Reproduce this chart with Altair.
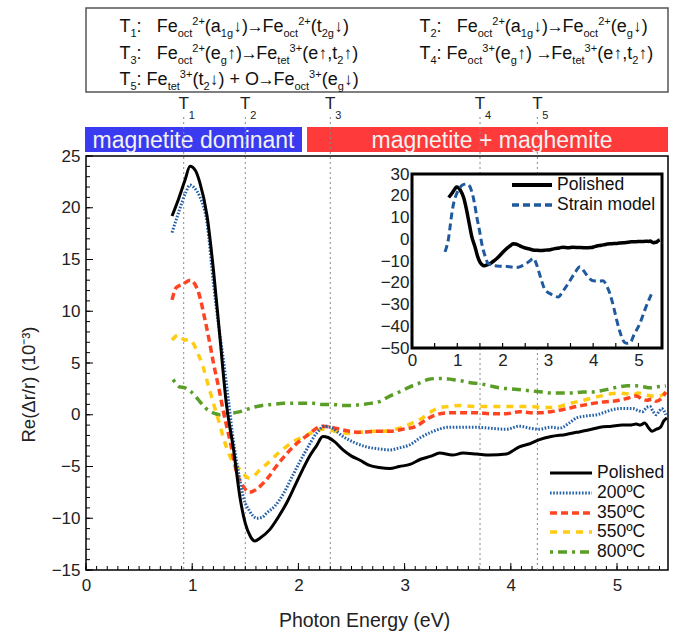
import re
import altair as alt
import pandas as pd
import numpy as np

FONT = "Liberation Sans"

# ---------------- data ----------------
POL_E = [0.81, 0.87, 0.93, 0.98, 1.03, 1.07, 1.14, 1.20, 1.26, 1.32, 1.39, 1.45, 1.50, 1.55, 1.59,
         1.64, 1.73, 1.81, 1.89, 1.97, 2.04, 2.10, 2.17, 2.23, 2.28, 2.34, 2.42, 2.50, 2.58, 2.67,
         2.76, 2.86, 2.95, 3.05, 3.15, 3.25, 3.33, 3.45, 3.55, 3.68, 3.80, 3.96, 4.03, 4.08, 4.18,
         4.27, 4.38, 4.52, 4.62, 4.72, 4.84, 4.95, 5.05, 5.12, 5.18, 5.22, 5.26, 5.30, 5.33, 5.37,
         5.41, 5.44, 5.47]
POL_V = [19.2, 20.8, 22.6, 24.0, 23.6, 22.5, 19.2, 14.0, 7.6, 1.2, -3.4, -8.0, -10.5, -11.8, -12.2,
         -11.9, -11.1, -9.9, -8.5, -6.8, -5.3, -4.1, -3.0, -2.1, -2.2, -2.6, -3.4, -4.0, -4.4, -4.9,
         -5.1, -5.2, -5.0, -4.8, -4.3, -4.0, -3.7, -3.9, -3.7, -3.8, -3.9, -3.8, -3.4, -3.1, -2.8,
         -2.4, -2.1, -1.9, -1.7, -1.5, -1.2, -1.1, -1.0, -1.0, -0.9, -1.0, -0.8, -1.3, -1.6, -1.4,
         -1.2, -0.6, -0.3]

T200_E = [0.81, 0.88, 0.94, 0.98, 1.03, 1.07, 1.14, 1.20, 1.25, 1.29, 1.34, 1.39, 1.44, 1.48, 1.54,
          1.61, 1.66, 1.70, 1.78, 1.86, 1.94, 2.01, 2.08, 2.17, 2.25, 2.32, 2.42, 2.53, 2.64, 2.76,
          2.86, 2.95, 3.05, 3.15, 3.27, 3.42, 3.55, 3.68, 3.80, 3.96, 4.08, 4.18, 4.27, 4.37, 4.46,
          4.55, 4.62, 4.72, 4.81, 4.90, 4.96, 5.05, 5.15, 5.20, 5.24, 5.28, 5.31, 5.34, 5.37, 5.40,
          5.42, 5.46]
T200_V = [17.6, 19.8, 21.5, 22.2, 21.8, 21.1, 18.5, 12.7, 8.5, 5.6, 1.5, -2.7, -5.8, -7.9, -9.3,
          -10.0, -9.9, -9.5, -8.8, -7.6, -6.0, -4.6, -3.3, -1.8, -1.1, -1.3, -2.1, -2.7, -3.1, -3.3,
          -3.4, -3.2, -2.9, -2.2, -1.6, -1.2, -1.2, -1.2, -1.3, -1.4, -1.1, -1.3, -1.4, -1.2, -1.3,
          -0.8, -0.3, -0.1, 0.0, 0.3, 0.5, 0.6, 0.6, 0.4, 0.3, 0.7, 0.8, 0.3, 0.0, 0.4,
          0.6, 0.0]

T350_E = [0.81, 0.85, 0.91, 0.98, 1.02, 1.06, 1.12, 1.16, 1.20, 1.25, 1.29, 1.36, 1.42, 1.48, 1.54,
          1.59, 1.64, 1.72, 1.79, 1.87, 1.95, 2.03, 2.11, 2.17, 2.23, 2.30, 2.39, 2.48, 2.58, 2.73,
          2.86, 2.98, 3.11, 3.20, 3.27, 3.42, 3.55, 3.68, 3.80, 3.96, 4.08, 4.18, 4.27, 4.38, 4.49,
          4.62, 4.72, 4.84, 4.95, 5.02, 5.10, 5.18, 5.24, 5.28, 5.33, 5.37, 5.42, 5.46]
T350_V = [11.1, 12.3, 12.6, 13.0, 12.7, 11.8, 9.2, 7.2, 5.0, 2.6, 0.5, -2.7, -5.6, -6.9, -7.5,
          -7.3, -6.9, -6.0, -5.0, -4.0, -3.1, -2.4, -1.8, -1.3, -1.1, -1.2, -1.4, -1.6, -1.7, -1.6,
          -1.6, -1.4, -1.1, -0.5, -0.1, 0.2, 0.2, 0.2, 0.1, 0.1, 0.3, 0.2, 0.2, 0.3, 0.5,
          0.8, 1.0, 1.2, 1.3, 1.4, 1.6, 1.8, 1.5, 1.4, 1.5, 1.3, 1.6, 2.2]

T550_E = [0.81, 0.87, 0.93, 0.97, 1.01, 1.05, 1.10, 1.15, 1.20, 1.25, 1.29, 1.36, 1.45, 1.53, 1.58,
          1.64, 1.72, 1.79, 1.87, 1.95, 2.03, 2.11, 2.17, 2.23, 2.30, 2.39, 2.48, 2.58, 2.70, 2.80,
          2.88, 2.95, 3.05, 3.17, 3.25, 3.33, 3.42, 3.52, 3.65, 3.77, 3.90, 4.05, 4.20, 4.30, 4.39,
          4.46, 4.52, 4.60, 4.68, 4.76, 4.84, 4.93, 5.02, 5.10, 5.15, 5.20, 5.27, 5.33, 5.40, 5.46]
T550_V = [7.2, 7.7, 7.2, 7.3, 6.9, 6.0, 4.7, 2.9, 1.1, -0.6, -2.1, -4.1, -5.3, -6.1, -5.9,
          -5.3, -4.6, -3.9, -3.2, -2.6, -2.2, -1.8, -1.5, -1.4, -1.5, -1.7, -1.8, -1.7, -1.6, -1.6,
          -1.5, -1.3, -0.9, -0.3, 0.3, 0.7, 0.8, 0.9, 0.8, 0.8, 0.8, 0.8, 0.8, 0.7, 0.7,
          0.8, 1.0, 1.2, 1.4, 1.6, 1.8, 2.0, 2.1, 2.0, 1.9, 2.1, 1.9, 1.8, 1.8, 2.2]

T800_E = [0.82, 0.88, 0.93, 0.98, 1.03, 1.07, 1.12, 1.17, 1.22, 1.26, 1.31, 1.35, 1.40, 1.45, 1.51,
          1.57, 1.66, 1.76, 1.86, 1.95, 2.05, 2.14, 2.23, 2.32, 2.42, 2.51, 2.60, 2.68, 2.77, 2.86,
          2.95, 3.05, 3.15, 3.22, 3.30, 3.38, 3.45, 3.52, 3.62, 3.71, 3.80, 3.89, 4.00, 4.10, 4.20,
          4.30, 4.39, 4.48, 4.58, 4.68, 4.76, 4.84, 4.93, 5.02, 5.10, 5.18, 5.25, 5.31, 5.38, 5.46]
T800_V = [3.4, 2.7, 2.6, 2.3, 1.8, 1.3, 0.7, 0.3, 0.1, 0.0, 0.1, 0.2, 0.2, 0.3, 0.5,
          0.7, 0.9, 1.0, 1.1, 1.1, 1.1, 1.1, 1.0, 1.0, 0.9, 0.9, 1.0, 1.1, 1.3, 1.8,
          2.2, 2.7, 3.1, 3.4, 3.5, 3.5, 3.4, 3.3, 3.1, 3.0, 2.8, 2.6, 2.5, 2.4, 2.3,
          2.2, 2.1, 2.1, 2.1, 2.2, 2.2, 2.3, 2.5, 2.7, 2.8, 2.8, 2.7, 2.6, 2.7, 2.8]

STRAIN_E = [0.73, 0.77, 0.80, 0.84, 0.88, 0.93, 0.99, 1.05, 1.12, 1.21, 1.27, 1.32, 1.38, 1.43, 1.49,
            1.54, 1.61, 1.68, 1.78, 1.94, 2.10, 2.20, 2.31, 2.42, 2.53, 2.60, 2.68, 2.74, 2.79, 2.86,
            2.94, 3.05, 3.15, 3.23, 3.33, 3.45, 3.58, 3.71, 3.79, 3.86, 3.93, 4.00, 4.10, 4.22, 4.30,
            4.37, 4.45, 4.52, 4.59, 4.66, 4.73, 4.81, 4.90, 5.03, 5.15, 5.29]
STRAIN_V = [-5.8, -3.0, -0.4, 5.5, 11.9, 17.5, 21.1, 23.5, 25.0, 25.4, 24.5, 21.9, 16.5, 10.3, 4.0,
            -1.9, -7.5, -11.1, -12.0, -12.4, -12.5, -12.8, -13.0, -12.3, -11.1, -10.0, -8.8, -11.0, -14.2, -19.0,
            -23.4, -25.0, -26.2, -26.5, -24.0, -20.3, -16.0, -12.7, -14.5, -16.5, -18.2, -19.1, -19.2, -19.1, -21.5,
            -25.0, -31.0, -37.2, -42.5, -46.5, -47.8, -47.7, -44.0, -38.8, -32.0, -25.0]

T_E = [0.92, 1.50, 2.30, 3.71, 4.25]
T_SUB = ["1", "2", "3", "4", "5"]

X_LABELS = [0, 1, 2, 3, 4, 5]
Y_LABELS = [-15, -10, -5, 0, 5, 10, 15, 20, 25]
INSET_X_LABELS = [0, 1, 2, 3, 4, 5]
INSET_Y_LABELS = [-50, -40, -30, -20, -10, 0, 10, 20, 30]

SERIES_NAMES = ["Polished", "200ºC", "350ºC", "550ºC", "800ºC"]
INSET_NAMES = ["Polished", "Strain model"]
REGION_LABELS = ["magnetite dominant", "magnetite + maghemite"]

FORMULAS = [
    "T_{1}:   Fe_{oct}^{2+}(a_{1g}↓)→Fe_{oct}^{2+}(t_{2g}↓)",
    "T_{2}:   Fe_{oct}^{2+}(a_{1g}↓)→Fe_{oct}^{2+}(e_{g}↓)",
    "T_{3}:   Fe_{oct}^{2+}(e_{g}↑)→Fe_{tet}^{3+}(e↑,t_{2}↑)",
    "T_{4}: Fe_{oct}^{3+}(e_{g}↑) →Fe_{tet}^{3+}(e↑,t_{2}↑)",
    "T_{5}: Fe_{tet}^{3+}(t_{2}↓) + O→Fe_{oct}^{3+}(e_{g}↓)",
]

# ---------------- layout ----------------
W, H = 582, 414
PL, PT = 86, 156
TOTAL_W, TOTAL_H = 680, 635
X_MAX = 5.48
Y_MIN, Y_MAX = -15, 25

PX = alt.Scale(domain=[0, TOTAL_W], range=[-PL, TOTAL_W - PL], nice=False, zero=False)
PY = alt.Scale(domain=[0, TOTAL_H], range=[-PT, TOTAL_H - PT], nice=False, zero=False)

XS = alt.Scale(domain=[0, X_MAX], nice=False, zero=False)
YS = alt.Scale(domain=[Y_MIN, Y_MAX], nice=False, zero=False)

xaxis = alt.Axis(values=X_LABELS, format="d", ticks=False, domain=False, grid=False,
                 labelFont=FONT, labelFontSize=17, labelColor="#222", labelPadding=7,
                 labelFlush=False,
                 titleFont=FONT, titleFontSize=19.5, titleFontWeight="normal", titleColor="#222",
                 titlePadding=18, titleX=364 - PL)
yaxis = alt.Axis(values=Y_LABELS, format="d", ticks=False, domain=False, grid=False,
                 labelFont=FONT, labelFontSize=17, labelColor="#222", labelPadding=6,
                 labelFlush=False,
                 titleFont=FONT, titleFontSize=18.5, titleFontWeight="normal", titleColor="#222",
                 titlePadding=13, titleY=384 - PT)

XTITLE = "Photon Energy (eV)"
YTITLE = "Re(Δr/r) (10⁻³)"


def xenc(field="e"):
    return alt.X(f"{field}:Q", scale=XS, axis=xaxis, title=XTITLE)


def yenc(field="v"):
    return alt.Y(f"{field}:Q", scale=YS, axis=yaxis, title=YTITLE)


def px_to_v(py):
    """plot-pixel y (from top of plot area) -> data value of the main y scale"""
    return Y_MAX - py * (Y_MAX - Y_MIN) / H


# ---- back annotation layer (page coordinates) ----
box_df = pd.DataFrame({"x": [86], "x2": [668], "y": [8], "y2": [92]})
box = alt.Chart(box_df).mark_rect(fill="white", stroke="#555", strokeWidth=1.5).encode(
    x=alt.X("x:Q", scale=PX, axis=None), x2="x2:Q",
    y=alt.Y("y:Q", scale=PY, axis=None), y2="y2:Q")

bars_df = pd.DataFrame({
    "x": [85, 307], "x2": [302, 668], "y": [127, 127], "y2": [152, 152],
    "c": ["#3a3af0", "#ff3a3a"], "label": REGION_LABELS, "cx": [193.5, 492], "cy": [141, 141],
})
bars = alt.Chart(bars_df).mark_rect().encode(
    x=alt.X("x:Q", scale=PX, axis=None), x2="x2:Q",
    y=alt.Y("y:Q", scale=PY, axis=None), y2="y2:Q",
    color=alt.Color("c:N", scale=None, legend=None))
bar_text = alt.Chart(bars_df).mark_text(font=FONT, fontSize=23, color="#f2f2f2",
                                        baseline="middle").encode(
    x=alt.X("cx:Q", scale=PX, axis=None), y=alt.Y("cy:Q", scale=PY, axis=None), text="label:N")

back = alt.layer(box, bars, bar_text)

# ---- inset geometry (plot pixels) ----
IL, IR, IT, IB = 326, 576, 18, 192

# ---- main plot ----
# dotted transition lines; interrupted where the inset covers them
seg_rows = []
for e in T_E:
    xp = e * W / X_MAX
    if IL <= xp <= IR:
        seg_rows.append({"e": e, "v1": px_to_v(-39), "v2": px_to_v(IT)})
        seg_rows.append({"e": e, "v1": px_to_v(IB), "v2": px_to_v(H)})
    else:
        seg_rows.append({"e": e, "v1": px_to_v(-39), "v2": px_to_v(H)})
seg_df = pd.DataFrame(seg_rows)
t_rules = alt.Chart(seg_df).mark_rule(color="#8a8a8a", strokeDash=[2, 3], strokeWidth=1).encode(
    x=xenc(), y=yenc("v1"), y2="v2:Q")

tdf = pd.DataFrame({"e": T_E, "sub": T_SUB})
t_text = alt.Chart(tdf).mark_text(text="T", font=FONT, fontSize=17, color="#222",
                                  baseline="middle").encode(x=xenc(), y=alt.value(-52))
t_sub = alt.Chart(tdf).mark_text(font=FONT, fontSize=11, color="#222", baseline="middle",
                                 dx=8).encode(x=xenc(), y=alt.value(-40), text="sub:N")

x_minor = pd.DataFrame({"e": np.round(np.arange(0, 5.45, 0.1), 2)})
x_major = pd.DataFrame({"e": X_LABELS})
y_minor = pd.DataFrame({"v": np.arange(-15, 26, 1)})
y_major = pd.DataFrame({"v": Y_LABELS})
xt1 = alt.Chart(x_minor).mark_rule(color="black", strokeWidth=1).encode(
    x=xenc(), y=alt.value(H), y2=alt.value(H - 4))
xt2 = alt.Chart(x_major).mark_rule(color="black", strokeWidth=1).encode(
    x=xenc(), y=alt.value(H), y2=alt.value(H - 7))
yt1 = alt.Chart(y_minor).mark_rule(color="black", strokeWidth=1).encode(
    y=yenc(), x=alt.value(0), x2=alt.value(4))
yt2 = alt.Chart(y_major).mark_rule(color="black", strokeWidth=1).encode(
    y=yenc(), x=alt.value(0), x2=alt.value(7))

STYLES = {
    "Polished": dict(color="#000000", strokeWidth=3),
    "200ºC": dict(color="#2460a8", strokeWidth=3, strokeDash=[1.6, 1.6]),
    "350ºC": dict(color="#ff4422", strokeWidth=3.5, strokeDash=[7, 4]),
    "550ºC": dict(color="#ffcc11", strokeWidth=3.5, strokeDash=[7, 6]),
    "800ºC": dict(color="#5a9e28", strokeWidth=3.5, strokeDash=[3, 5, 9, 5]),
}
SERIES_DATA = {
    "Polished": (POL_E, POL_V),
    "200ºC": (T200_E, T200_V),
    "350ºC": (T350_E, T350_V),
    "550ºC": (T550_E, T550_V),
    "800ºC": (T800_E, T800_V),
}

lines = []
for name in ["800ºC", "550ºC", "350ºC", "200ºC", "Polished"]:
    e, v = SERIES_DATA[name]
    df = pd.DataFrame({"e": e, "v": v})
    lines.append(alt.Chart(df).mark_line(interpolate="monotone", **STYLES[name]).encode(
        x=xenc(), y=yenc()))

main = alt.layer(t_rules, t_text, t_sub, xt1, xt2, yt1, yt2, *lines)

# ---- inset ----
IXS = alt.Scale(domain=[0, 5.52], range=[IL, IR], nice=False, zero=False)
IYS = alt.Scale(domain=[-50, 30], range=[IB, IT], nice=False, zero=False)
ixaxis = alt.Axis(orient="bottom", offset=-(H - IB), values=INSET_X_LABELS, format="d",
                  ticks=False, domain=False, grid=False, labelFont=FONT, labelFontSize=17,
                  labelColor="#222", labelPadding=4, labelFlush=False, title=None)
iyaxis = alt.Axis(orient="left", offset=-IL, values=INSET_Y_LABELS, format="d",
                  ticks=False, domain=False, grid=False, labelFont=FONT, labelFontSize=17,
                  labelColor="#222", labelPadding=3, labelFlush=False, title=None)


def ixenc():
    return alt.X("e:Q", scale=IXS, axis=ixaxis)


def iyenc():
    return alt.Y("v:Q", scale=IYS, axis=iyaxis)


frame_df = pd.DataFrame({"a": [0]})
inset_bg = alt.Chart(frame_df).mark_rect(fill="white").encode(
    x=alt.value(IL), x2=alt.value(IR), y=alt.value(IT), y2=alt.value(IB))
inset_pol = alt.Chart(pd.DataFrame({"e": POL_E, "v": POL_V})).mark_line(
    interpolate="monotone", color="black", strokeWidth=3.5).encode(x=ixenc(), y=iyenc())
inset_strain = alt.Chart(pd.DataFrame({"e": STRAIN_E, "v": STRAIN_V})).mark_line(
    interpolate="monotone", color="#1f5a9e", strokeWidth=3, strokeDash=[7, 4]).encode(
    x=ixenc(), y=iyenc())
inset_ticks = alt.Chart(pd.DataFrame({"e": np.arange(0.5, 5.5, 0.5)})).mark_rule(
    color="black", strokeWidth=1.2).encode(x=ixenc(), y=alt.value(IB), y2=alt.value(IB - 5))
inset_frame = alt.Chart(frame_df).mark_rect(fillOpacity=0, stroke="black", strokeWidth=3).encode(
    x=alt.value(IL), x2=alt.value(IR), y=alt.value(IT), y2=alt.value(IB))

inset = alt.layer(inset_bg, inset_pol, inset_strain, inset_ticks, inset_frame)

# ---- front annotation layer: formulas and legends ----
W_EM = {"T": .611, "F": .611, "O": .778, "e": .556, "a": .556, "c": .5, "o": .556, "t": .278,
        "g": .556, "1": .556, "2": .556, "3": .556, "4": .556, "5": .556, "+": .584,
        "(": .333, ")": .333, ":": .278, " ": .278, ",": .278, "↓": .5, "↑": .5, "→": .8}
MAIN_FS, SUB_FS, ARROW_FS = 18, 11, 17
SUB_DY, SUP_DY = 5, -7


def layout(spec, x0, base):
    rows = []
    x = x0
    for tok in re.findall(r"_\{[^}]*\}|\^\{[^}]*\}|.", spec):
        if tok.startswith("_{"):
            txt, fs, y = tok[2:-1], SUB_FS, base + SUB_DY
        elif tok.startswith("^{"):
            txt, fs, y = tok[2:-1], SUB_FS, base + SUP_DY
        else:
            txt, fs, y = tok, MAIN_FS, base
        for ch in txt:
            w = W_EM.get(ch, .556) * fs
            if ch != " ":
                rows.append({"x": x + w / 2, "y": y, "t": ch,
                             "fs": ARROW_FS if ch in "↓↑→" else fs})
            x += w
    return rows


COL1, COL2 = 119.5, 419.5
BASES = [31.5, 58.5, 85]
frows = []
frows += layout(FORMULAS[0], COL1, BASES[0])
frows += layout(FORMULAS[1], COL2, BASES[0])
frows += layout(FORMULAS[2], COL1, BASES[1])
frows += layout(FORMULAS[3], COL2, BASES[1])
frows += layout(FORMULAS[4], COL1, BASES[2])
fdf = pd.DataFrame(frows)
formula = alt.Chart(fdf).mark_text(font=FONT, color="#111", align="center",
                                   baseline="alphabetic").encode(
    x=alt.X("x:Q", scale=PX, axis=None), y=alt.Y("y:Q", scale=PY, axis=None),
    text="t:N", size=alt.Size("fs:Q", scale=None, legend=None))

# main legend
LEG_Y = [473, 493, 513, 532, 552]
leg_layers = []
for name, yy in zip(SERIES_NAMES, LEG_Y):
    st = dict(STYLES[name])
    d = pd.DataFrame({"x": [550], "x2": [592], "y": [yy]})
    leg_layers.append(alt.Chart(d).mark_rule(**st).encode(
        x=alt.X("x:Q", scale=PX, axis=None), x2="x2:Q", y=alt.Y("y:Q", scale=PY, axis=None)))
leg_text = alt.Chart(pd.DataFrame({"t": SERIES_NAMES, "y": LEG_Y, "x": [597] * 5})).mark_text(
    font=FONT, fontSize=17.5, color="#111", align="left", baseline="middle").encode(
    x=alt.X("x:Q", scale=PX, axis=None), y=alt.Y("y:Q", scale=PY, axis=None), text="t:N")

# inset legend
ILEG_Y = [185, 205]
ileg1 = alt.Chart(pd.DataFrame({"x": [512], "x2": [552], "y": [ILEG_Y[0]]})).mark_rule(
    color="black", strokeWidth=4).encode(
    x=alt.X("x:Q", scale=PX, axis=None), x2="x2:Q", y=alt.Y("y:Q", scale=PY, axis=None))
ileg2 = alt.Chart(pd.DataFrame({"x": [512], "x2": [552], "y": [ILEG_Y[1]]})).mark_rule(
    color="#1f5a9e", strokeWidth=3.5, strokeDash=[7, 4]).encode(
    x=alt.X("x:Q", scale=PX, axis=None), x2="x2:Q", y=alt.Y("y:Q", scale=PY, axis=None))
ileg_text = alt.Chart(pd.DataFrame({"t": INSET_NAMES, "y": ILEG_Y, "x": [557, 557]})).mark_text(
    font=FONT, fontSize=17.5, color="#111", align="left", baseline="middle").encode(
    x=alt.X("x:Q", scale=PX, axis=None), y=alt.Y("y:Q", scale=PY, axis=None), text="t:N")

front = alt.layer(formula, *leg_layers, leg_text, ileg1, ileg2, ileg_text)

chart = alt.layer(back, main, inset, front).resolve_scale(
    x="independent", y="independent").resolve_axis(x="independent", y="independent").properties(
    width=W, height=H,
    autosize=alt.AutoSizeParams(type="none"),
    padding={"left": PL, "top": PT, "right": TOTAL_W - PL - W, "bottom": TOTAL_H - PT - H},
    background="white",
).configure_view(stroke="black", strokeWidth=1.5)

chart.save("out.html", embed_options={"renderer": "svg", "actions": False})
